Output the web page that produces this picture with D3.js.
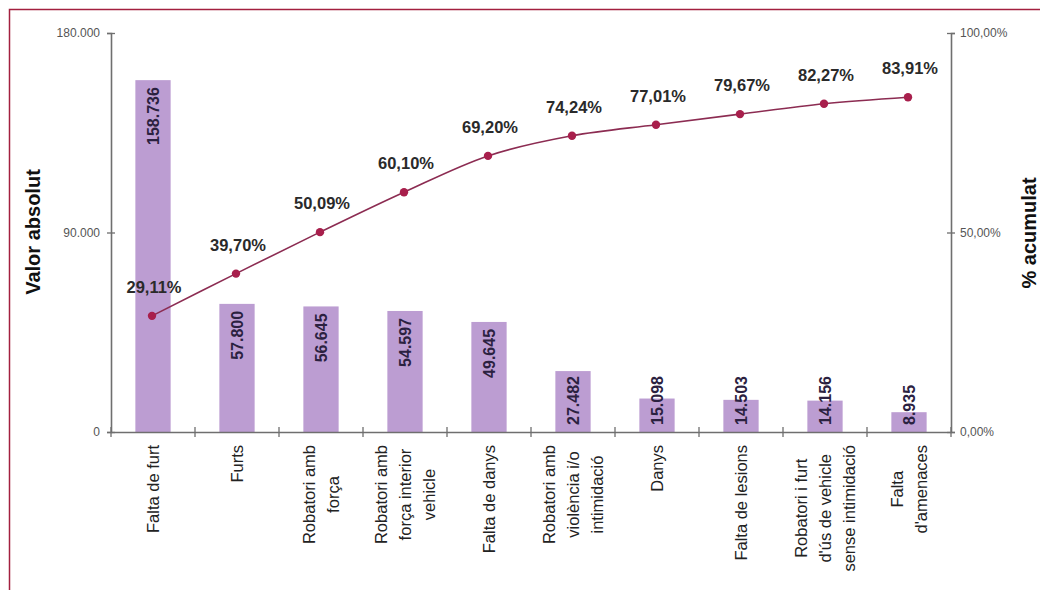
<!DOCTYPE html>
<html><head><meta charset="utf-8">
<script src="https://cdn.jsdelivr.net/npm/d3@7"></script>
<style>
html,body{margin:0;padding:0;background:#fff;}
svg{display:block;font-family:Arial,"Liberation Sans",sans-serif;}
</style></head>
<body><svg id="c" width="1040" height="590"></svg>
<script>
const categories = [
  ["Falta de furt"],
  ["Furts"],
  ["Robatori amb","força"],
  ["Robatori amb","força interior","vehicle"],
  ["Falta de danys"],
  ["Robatori amb","violència i/o","intimidació"],
  ["Danys"],
  ["Falta de lesions"],
  ["Robatori i furt","d'ús de vehicle","sense intimidació"],
  ["Falta","d'amenaces"]
];
const values = [158736, 57800, 56645, 54597, 49645, 27482, 15098, 14503, 14156, 8935];
const cumulative = [29.11, 39.70, 50.09, 60.10, 69.20, 74.24, 77.01, 79.67, 82.27, 83.91];
const leftTicks = [0, 90000, 180000];
const rightTicks = [0, 50, 100];

const svg = d3.select("#c");
svg.append("rect").attr("x",9.5).attr("y",9.5).attr("width",1100).attr("height",700)
  .attr("fill","#fff").attr("stroke","#a3203f").attr("stroke-width",1.5);

const x0 = 111, x1 = 951, yBase = 432, yTop = 33;
const x = d3.scaleBand().domain(d3.range(categories.length)).range([x0, x1]).paddingInner(0.58).paddingOuter(0.29);
const xb = d3.scaleBand().domain(d3.range(categories.length)).range([x0, x1]);
const yL = d3.scaleLinear().domain([0, 180000]).range([yBase, yTop]);
const yR = d3.scaleLinear().domain([0, 100]).range([yBase, yTop]);
const fmtN = d3.formatLocale({decimal:",", thousands:".", grouping:[3], currency:["","€"]});
const fInt = fmtN.format(",.0f");
const fPct = fmtN.format(",.2f");

// bars
svg.append("g").selectAll("rect").data(values).join("rect")
  .attr("x",(d,i)=>x(i)).attr("width",x.bandwidth())
  .attr("y",d=>yL(d)).attr("height",d=>yBase-yL(d))
  .attr("fill","#bc9dd2");

// axes
const axisColor = "#6f6f6f";
const gL = svg.append("g").attr("transform",`translate(${x0},0)`)
  .call(d3.axisLeft(yL).tickValues(leftTicks).tickSize(4).tickFormat(fInt));
const gR = svg.append("g").attr("transform",`translate(${x1},0)`)
  .call(d3.axisRight(yR).tickValues(rightTicks).tickSize(4).tickFormat(d=>fPct(d)+"%"));
const gX = svg.append("g").attr("transform",`translate(0,${yBase})`)
  .call(d3.axisBottom(xb).tickValues([]).tickSize(0));
[gL,gR,gX].forEach(g=>{
  g.select(".domain").attr("stroke",axisColor).attr("stroke-width",1.6);
  g.selectAll(".tick line").attr("stroke",axisColor).attr("stroke-width",1.3);
  g.selectAll("text").attr("font-size",12).attr("fill","#555").attr("font-family","Arial, 'Liberation Sans', sans-serif");
});
gL.selectAll(".tick line").attr("x1",4).attr("x2",-4);
gL.selectAll(".tick text").attr("x",-11);
gR.selectAll(".tick line").attr("x1",-4).attr("x2",4);
gR.selectAll(".tick text").attr("x",9);
// category boundary ticks on x axis
const bounds = d3.range(categories.length+1).map(i=> i<categories.length ? xb(i) : x1);
svg.append("g").selectAll("line").data(bounds).join("line")
  .attr("x1",d=>d).attr("x2",d=>d).attr("y1",yBase-5).attr("y2",yBase+5)
  .attr("stroke",axisColor).attr("stroke-width",1.3);

// x labels
const lblG = svg.append("g");
categories.forEach((lines,i)=>{
  const cx = xb(i)+xb.bandwidth()/2;
  const g = lblG.append("g");
  const ts = lines.map(t=> g.append("text").text(t).attr("font-size",16.5).attr("fill","#222").attr("text-anchor","middle"));
  const maxLen = d3.max(ts, t=>t.node().getComputedTextLength());
  const n = lines.length, lh = 24;
  ts.forEach((t,j)=>{
    const px = cx + (j-(n-1)/2)*lh + 5.5;
    const py = 445 + maxLen/2;
    t.attr("transform",`translate(${px},${py}) rotate(-90)`);
  });
});

// value labels inside bars
svg.append("g").selectAll("text").data(values).join("text")
  .text(d=>fInt(d))
  .attr("font-size",16).attr("font-weight","bold").attr("fill","#2b2140")
  .attr("text-anchor","start")
  .each(function(d,i){
    const len = this.getComputedTextLength();
    const cx = x(i)+x.bandwidth()/2 + 5.5;
    const start = Math.min(yL(d)+7+len, yBase-7);
    d3.select(this).attr("transform",`translate(${cx},${start}) rotate(-90)`);
  });

// cumulative line
const pts = cumulative.map((d,i)=>[xb(i)+xb.bandwidth()/2 - 1, yR(d)]);
svg.append("path").datum(pts)
  .attr("d", d3.line().curve(d3.curveCatmullRom.alpha(0.5)))
  .attr("fill","none").attr("stroke","#8c2c52").attr("stroke-width",1.6);
svg.append("g").selectAll("circle").data(pts).join("circle")
  .attr("cx",d=>d[0]).attr("cy",d=>d[1]).attr("r",4.2).attr("fill","#a81f4c");
svg.append("g").selectAll("text").data(cumulative).join("text")
  .text(d=>fPct(d)+"%")
  .attr("x",(d,i)=>pts[i][0]+2).attr("y",(d,i)=>pts[i][1]-23)
  .attr("text-anchor","middle").attr("font-size",16.5).attr("font-weight","bold").attr("fill","#2a2a2a");

// axis titles
svg.append("text").text("Valor absolut").attr("transform","translate(40,232) rotate(-90)")
  .attr("text-anchor","middle").attr("font-size",20).attr("font-weight","bold").attr("fill","#111");
svg.append("text").text("% acumulat").attr("transform","translate(1036,233) rotate(-90)")
  .attr("text-anchor","middle").attr("font-size",20).attr("font-weight","bold").attr("fill","#111");
</script></body></html>
